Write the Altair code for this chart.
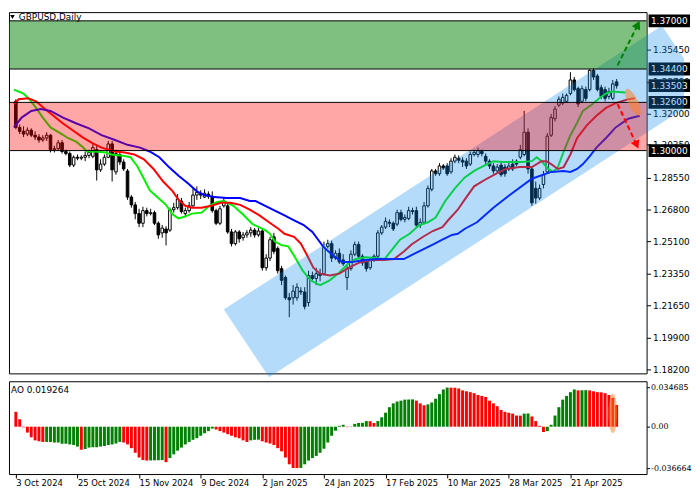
import json
import altair as alt
import pandas as pd

# ---------------- data (bar 0 = 3 Oct 2024) ----------------
OPEN = [
    1.3266, 1.3125, 1.3104, 1.3089, 1.3110, 1.3083, 1.3073, 1.3057, 1.3068, 1.3083,
    1.3005, 1.3010, 1.3042, 1.2995, 1.2984, 1.2922, 1.2964, 1.2959, 1.2964, 1.2974,
    1.2969, 1.3005, 1.2896, 1.2927, 1.2964, 1.3036, 1.2885, 1.2979, 1.2938, 1.2890,
    1.2749, 1.2707, 1.2660, 1.2608, 1.2676, 1.2660, 1.2665, 1.2608, 1.2556, 1.2577,
    1.2571, 1.2681, 1.2692, 1.2728, 1.2660, 1.2676, 1.2702, 1.2760, 1.2765, 1.2749,
    1.2765, 1.2754, 1.2676, 1.2608, 1.2702, 1.2702, 1.2561, 1.2498, 1.2561, 1.2530,
    1.2545, 1.2556, 1.2571, 1.2545, 1.2566, 1.2368, 1.2420, 1.2535, 1.2472, 1.2363,
    1.2315, 1.2206, 1.2206, 1.2206, 1.2242, 1.2237, 1.2180, 1.2326, 1.2310, 1.2336,
    1.2336, 1.2483, 1.2498, 1.2420, 1.2446, 1.2410, 1.2315, 1.2363, 1.2441, 1.2493,
    1.2430, 1.2399, 1.2368, 1.2415, 1.2430, 1.2556, 1.2587, 1.2613, 1.2608, 1.2603,
    1.2665, 1.2629, 1.2634, 1.2676, 1.2676, 1.2598, 1.2613, 1.2702, 1.2791, 1.2890,
    1.2875, 1.2917, 1.2917, 1.2885, 1.2943, 1.2959, 1.2948, 1.2943, 1.2927, 1.2979,
    1.2979, 1.2995, 1.2969, 1.2943, 1.2917, 1.2890, 1.2922, 1.2911, 1.2901, 1.2927,
    1.2943, 1.2964, 1.2979, 1.3099, 1.2901, 1.2796, 1.2744, 1.2817, 1.2885, 1.3083,
    1.3172, 1.3245, 1.3256, 1.3266, 1.3308, 1.3381, 1.3334, 1.3266, 1.3329, 1.3329,
    1.3433, 1.3402, 1.3339, 1.3329, 1.3292, 1.3282, 1.3371,
]
HIGH = [
    1.3277, 1.3141, 1.3131, 1.3125, 1.3120, 1.3104, 1.3089, 1.3083, 1.3099, 1.3089,
    1.3026, 1.3057, 1.3057, 1.3005, 1.2995, 1.2974, 1.2979, 1.2974, 1.2995, 1.3005,
    1.3036, 1.3026, 1.2953, 1.2979, 1.3052, 1.3052, 1.3005, 1.2995, 1.2953, 1.2901,
    1.2760, 1.2723, 1.2686, 1.2697, 1.2692, 1.2686, 1.2676, 1.2618, 1.2598, 1.2592,
    1.2692, 1.2718, 1.2765, 1.2744, 1.2692, 1.2723, 1.2796, 1.2807, 1.2786, 1.2791,
    1.2780, 1.2780, 1.2686, 1.2702, 1.2744, 1.2718, 1.2577, 1.2571, 1.2571, 1.2561,
    1.2571, 1.2587, 1.2582, 1.2582, 1.2577, 1.2441, 1.2535, 1.2556, 1.2483, 1.2378,
    1.2326, 1.2232, 1.2274, 1.2284, 1.2263, 1.2263, 1.2352, 1.2347, 1.2368, 1.2363,
    1.2509, 1.2519, 1.2514, 1.2462, 1.2472, 1.2441, 1.2378, 1.2462, 1.2509, 1.2509,
    1.2441, 1.2410, 1.2420, 1.2441, 1.2571, 1.2598, 1.2639, 1.2629, 1.2618, 1.2681,
    1.2681, 1.2655, 1.2697, 1.2692, 1.2697, 1.2634, 1.2723, 1.2812, 1.2901, 1.2901,
    1.2932, 1.2927, 1.2932, 1.2959, 1.2979, 1.2974, 1.2964, 1.2959, 1.2995, 1.3005,
    1.3016, 1.3005, 1.2984, 1.2953, 1.2932, 1.2927, 1.2938, 1.2927, 1.2938, 1.2953,
    1.2953, 1.3031, 1.3214, 1.3120, 1.2911, 1.2833, 1.2817, 1.2890, 1.3094, 1.3198,
    1.3240, 1.3292, 1.3308, 1.3308, 1.3423, 1.3397, 1.3345, 1.3350, 1.3345, 1.3439,
    1.3444, 1.3413, 1.3355, 1.3345, 1.3339, 1.3381, 1.3386,
]
LOW = [
    1.3115, 1.3089, 1.3073, 1.3078, 1.3073, 1.3057, 1.3042, 1.3047, 1.3052, 1.2990,
    1.2990, 1.3000, 1.2984, 1.2974, 1.2911, 1.2911, 1.2948, 1.2948, 1.2943, 1.2959,
    1.2959, 1.2838, 1.2885, 1.2917, 1.2959, 1.2833, 1.2870, 1.2922, 1.2890, 1.2734,
    1.2692, 1.2629, 1.2587, 1.2587, 1.2645, 1.2650, 1.2598, 1.2524, 1.2530, 1.2488,
    1.2561, 1.2665, 1.2681, 1.2660, 1.2639, 1.2665, 1.2697, 1.2734, 1.2739, 1.2744,
    1.2739, 1.2665, 1.2598, 1.2598, 1.2692, 1.2551, 1.2483, 1.2488, 1.2503, 1.2514,
    1.2530, 1.2535, 1.2530, 1.2535, 1.2352, 1.2352, 1.2404, 1.2441, 1.2336, 1.2274,
    1.2195, 1.2101, 1.2169, 1.2190, 1.2221, 1.2143, 1.2159, 1.2300, 1.2274, 1.2295,
    1.2326, 1.2472, 1.2399, 1.2410, 1.2389, 1.2378, 1.2248, 1.2352, 1.2430, 1.2420,
    1.2378, 1.2347, 1.2357, 1.2399, 1.2420, 1.2545, 1.2577, 1.2587, 1.2566, 1.2592,
    1.2618, 1.2613, 1.2624, 1.2655, 1.2587, 1.2582, 1.2603, 1.2692, 1.2780, 1.2864,
    1.2864, 1.2896, 1.2864, 1.2875, 1.2932, 1.2932, 1.2911, 1.2901, 1.2917, 1.2969,
    1.2964, 1.2969, 1.2927, 1.2901, 1.2875, 1.2880, 1.2859, 1.2859, 1.2890, 1.2890,
    1.2917, 1.2953, 1.2969, 1.2875, 1.2702, 1.2713, 1.2734, 1.2796, 1.2875, 1.3073,
    1.3157, 1.3235, 1.3245, 1.3256, 1.3298, 1.3319, 1.3235, 1.3256, 1.3266, 1.3319,
    1.3381, 1.3319, 1.3277, 1.3266, 1.3277, 1.3272, 1.3334,
]
CLOSE = [
    1.3125, 1.3104, 1.3089, 1.3110, 1.3083, 1.3073, 1.3057, 1.3068, 1.3083, 1.3005,
    1.3010, 1.3042, 1.2995, 1.2984, 1.2922, 1.2964, 1.2959, 1.2964, 1.2974, 1.2990,
    1.3016, 1.2896, 1.2927, 1.2964, 1.3036, 1.2896, 1.2984, 1.2938, 1.2901, 1.2749,
    1.2707, 1.2660, 1.2608, 1.2676, 1.2660, 1.2665, 1.2608, 1.2545, 1.2582, 1.2556,
    1.2681, 1.2692, 1.2739, 1.2671, 1.2676, 1.2702, 1.2760, 1.2775, 1.2760, 1.2770,
    1.2754, 1.2676, 1.2608, 1.2686, 1.2728, 1.2561, 1.2498, 1.2561, 1.2524, 1.2545,
    1.2556, 1.2571, 1.2545, 1.2566, 1.2368, 1.2420, 1.2519, 1.2456, 1.2352, 1.2300,
    1.2206, 1.2195, 1.2242, 1.2263, 1.2237, 1.2159, 1.2326, 1.2310, 1.2336, 1.2326,
    1.2477, 1.2498, 1.2420, 1.2446, 1.2399, 1.2389, 1.2363, 1.2441, 1.2493, 1.2430,
    1.2394, 1.2363, 1.2410, 1.2430, 1.2556, 1.2587, 1.2618, 1.2608, 1.2577, 1.2665,
    1.2629, 1.2639, 1.2676, 1.2671, 1.2598, 1.2613, 1.2702, 1.2796, 1.2890, 1.2875,
    1.2917, 1.2906, 1.2875, 1.2943, 1.2964, 1.2948, 1.2938, 1.2917, 1.2979, 1.2990,
    1.3000, 1.2984, 1.2943, 1.2917, 1.2890, 1.2911, 1.2870, 1.2875, 1.2917, 1.2901,
    1.2927, 1.3005, 1.3099, 1.2901, 1.2718, 1.2744, 1.2796, 1.2870, 1.3078, 1.3178,
    1.3224, 1.3277, 1.3287, 1.3298, 1.3381, 1.3329, 1.3251, 1.3334, 1.3282, 1.3433,
    1.3397, 1.3329, 1.3292, 1.3282, 1.3319, 1.3360, 1.3350,
]

# Alligator lines (bar position, price), drawn shifted forward as in the reference
LIPS_BAR = [-0.5, 2, 3.5, 5.25, 7, 9, 11.5, 13.5, 15.75, 17.25, 18.5, 20.75, 23.25, 24.75,
            27.25, 29.75, 31.5, 33.25, 34.75, 37, 39, 40.75, 42.25, 44, 45.75, 48.25, 50.25,
            52.25, 54, 56.5, 59, 61.5, 64.75, 66, 67.25, 69, 70.75, 72.75, 74.5, 76.5, 79,
            81.5, 84, 86.5, 88.25, 90.75, 93.25, 95.75, 97.75, 99.75, 102.25, 104.75, 107,
            109, 111.5, 114, 116.5, 119, 121.5, 124, 126.5, 129, 131.5, 134, 135.25, 136.5,
            138.25, 139.5, 140.75, 142.25, 144, 145.75, 147.25, 149.75, 151.5, 153.25,
            154.75, 158.25]
LIPS_VAL = [1.3329, 1.3308, 1.3277, 1.3230, 1.3178, 1.3125, 1.3094, 1.3068, 1.3047, 1.3021,
            1.2995, 1.2995, 1.2990, 1.2979, 1.2974, 1.2964, 1.2917, 1.2848, 1.2786, 1.2744,
            1.2707, 1.2655, 1.2634, 1.2645, 1.2660, 1.2665, 1.2702, 1.2723, 1.2728, 1.2702,
            1.2655, 1.2603, 1.2571, 1.2551, 1.2509, 1.2490, 1.2483, 1.2415, 1.2352, 1.2300,
            1.2274, 1.2300, 1.2342, 1.2394, 1.2415, 1.2425, 1.2420, 1.2415, 1.2467, 1.2519,
            1.2551, 1.2598, 1.2613, 1.2639, 1.2728, 1.2796, 1.2854, 1.2890, 1.2917, 1.2943,
            1.2938, 1.2938, 1.2938, 1.2943, 1.2964, 1.2943, 1.2901, 1.2885, 1.2911, 1.2995,
            1.3083, 1.3151, 1.3214, 1.3251, 1.3282, 1.3308, 1.3319, 1.3313]
TEETH_BAR = [-0.5, 0.75, 3.25, 5.25, 7.25, 9.75, 12.25, 14.75, 17.25, 19.75, 22.25, 25.75,
             28.25, 30.75, 33.25, 35.75, 38.25, 40.75, 42.25, 44, 45.75, 48.25, 50.75, 53.25,
             55.75, 58.25, 60.75, 63.25, 65.75, 68.25, 69.75, 72.25, 74, 75.75, 77.25, 79,
             81.5, 84, 86.5, 89, 92.25, 95.75, 98.25, 100.75, 102.75, 105.75, 108.25, 110.75,
             112.25, 114.75, 116.5, 119, 122.25, 124.75, 127.25, 130.75, 134, 136.5, 137.75,
             139, 140.75, 142.25, 144, 145.75, 148.25, 150.75, 153.25, 155.75, 159, 160.75]
TEETH_VAL = [1.3251, 1.3277, 1.3282, 1.3266, 1.3230, 1.3188, 1.3146, 1.3110, 1.3073, 1.3042,
             1.3016, 1.2995, 1.2990, 1.2979, 1.2953, 1.2901, 1.2833, 1.2780, 1.2734, 1.2702,
             1.2692, 1.2692, 1.2702, 1.2718, 1.2718, 1.2707, 1.2681, 1.2650, 1.2613, 1.2577,
             1.2551, 1.2535, 1.2498, 1.2430, 1.2368, 1.2336, 1.2326, 1.2336, 1.2368, 1.2394,
             1.2410, 1.2410, 1.2415, 1.2456, 1.2493, 1.2535, 1.2566, 1.2587, 1.2624, 1.2681,
             1.2734, 1.2807, 1.2848, 1.2875, 1.2901, 1.2911, 1.2911, 1.2943, 1.2943, 1.2927,
             1.2901, 1.2911, 1.2979, 1.3068, 1.3136, 1.3188, 1.3230, 1.3256, 1.3277, 1.3282]
JAW_BAR = [-0.5, 1.5, 4, 6.5, 9, 12.25, 15.75, 19, 22.25, 25.75, 29, 32.25, 34.75, 37.25,
           39.75, 42.25, 44.75, 47, 49, 51.5, 54.75, 58.25, 60.75, 62.25, 64.75, 67.25, 69.75,
           72.25, 74.75, 77, 78.5, 79.75, 82.25, 84.75, 87.25, 90.75, 94, 97.25, 100.75,
           103.25, 105.75, 108.25, 110.75, 113.25, 114.75, 116.5, 119.75, 124, 128.25, 134,
           139, 142.25, 144, 145.75, 147.25, 149, 150.75, 153.25, 155.75, 159, 162]
JAW_VAL = [1.3125, 1.3178, 1.3214, 1.3224, 1.3214, 1.3178, 1.3146, 1.3120, 1.3083, 1.3057,
           1.3031, 1.3016, 1.2995, 1.2964, 1.2911, 1.2864, 1.2822, 1.2780, 1.2760, 1.2749,
           1.2744, 1.2744, 1.2728, 1.2728, 1.2702, 1.2676, 1.2650, 1.2624, 1.2598, 1.2561,
           1.2519, 1.2483, 1.2436, 1.2399, 1.2399, 1.2410, 1.2415, 1.2415, 1.2415, 1.2441,
           1.2467, 1.2493, 1.2519, 1.2545, 1.2551, 1.2577, 1.2613, 1.2692, 1.2760, 1.2848,
           1.2885, 1.2890, 1.2885, 1.2901, 1.2927, 1.2969, 1.3016, 1.3068, 1.3125, 1.3172,
           1.3188]

# Awesome Oscillator
AO_VALUE = [
    0.0132, 0.0066, -0.0005, -0.0052, -0.0094, -0.0121, -0.0129, -0.0135, -0.0135, -0.0135,
    -0.0140, -0.0140, -0.0151, -0.0151, -0.0157, -0.0162, -0.0176, -0.0204, -0.0198, -0.0185,
    -0.0182, -0.0182, -0.0176, -0.0171, -0.0162, -0.0157, -0.0149, -0.0135, -0.0140, -0.0157,
    -0.0190, -0.0231, -0.0273, -0.0295, -0.0300, -0.0299, -0.0298, -0.0297, -0.0296, -0.0314,
    -0.0278, -0.0245, -0.0212, -0.0185, -0.0157, -0.0135, -0.0116, -0.0102, -0.0080, -0.0058,
    -0.0039, -0.0017, -0.0025, -0.0039, -0.0052, -0.0066, -0.0080, -0.0094, -0.0102, -0.0121,
    -0.0135, -0.0121, -0.0116, -0.0115, -0.0129, -0.0140, -0.0149, -0.0162, -0.0190, -0.0218,
    -0.0273, -0.0333, -0.0366, -0.036664, -0.0365, -0.0333, -0.0300, -0.0278, -0.0259, -0.0231,
    -0.0195, -0.0140, -0.0080, -0.0035, 0.0008, 0.0017, -0.0004, -0.0003, 0.0025, 0.0033,
    0.0034, 0.0050, 0.0049, 0.0033, 0.0050, 0.0083, 0.0124, 0.0173, 0.0207, 0.0223,
    0.0231, 0.0240, 0.0241, 0.0242, 0.0231, 0.0207, 0.0190, 0.0198, 0.0215, 0.0248,
    0.0289, 0.0330, 0.034685, 0.0346, 0.0345, 0.0339, 0.0322, 0.0314, 0.0306, 0.0297,
    0.0281, 0.0273, 0.0264, 0.0231, 0.0207, 0.0182, 0.0149, 0.0132, 0.0124, 0.0116,
    0.0099, 0.0098, 0.0116, 0.0117, 0.0091, 0.0050, 0.0008, -0.0047, -0.0039, 0.0017,
    0.0099, 0.0173, 0.0240, 0.0273, 0.0306, 0.0330, 0.0322, 0.0323, 0.0324, 0.0322,
    0.0314, 0.0306, 0.0305, 0.0297, 0.0281, 0.0256, 0.019264,
]
AO_COLOR_RUNS = [("r", 8), ("g", 9), ("r", 1), ("g", 10), ("r", 7), ("g", 4), ("r", 1),
                 ("g", 12), ("r", 9), ("g", 3), ("r", 10), ("g", 12), ("r", 1), ("g", 5),
                 ("r", 2), ("g", 10), ("r", 3), ("g", 6), ("r", 19), ("g", 2), ("r", 4),
                 ("g", 8), ("r", 1), ("g", 2), ("r", 8)]
AO_TEXT = "AO 0.019264"

# drawn objects
CHANNEL_BAR = [54.0, 65.75, 167.75, 173.5]
CHANNEL_UPPER = [1.2143, 1.2301, 1.3674, 1.3495]
CHANNEL_LOWER = [1.2143, 1.1777, 1.3150, 1.3227]
GREEN_ZONE = [1.344, 1.370]
RED_ZONE = [1.300, 1.326]
LEVEL_PRICE = [1.370, 1.344, 1.33503, 1.326, 1.300]
LEVEL_TEXT = ["1.37000", "1.34400", "1.33503", "1.32600", "1.30000"]
ARROW_UP_BAR = [156.25, 161.5]
ARROW_UP_PRICE = [1.3460, 1.3679]
ARROW_DN_BAR = [156.25, 161.2]
ARROW_DN_PRICE = [1.3251, 1.3031]
ELLIPSE_MAIN = [160.25, 1.3261]
ELLIPSE_AO = [155, 0.0118]

PRICE_TICKS = [1.3545, 1.337, 1.32, 1.3035, 1.2855, 1.268, 1.251, 1.2335,
               1.2165, 1.199, 1.182]
AO_TICKS = [0.034685, 0.0, -0.036664]
DATE_BARS = [0, 16, 32, 48, 64, 80, 96, 112, 128, 144]
DATE_LABELS = ["3 Oct 2024", "25 Oct 2024", "15 Nov 2024", "9 Dec 2024", "2 Jan 2025",
               "24 Jan 2025", "17 Feb 2025", "10 Mar 2025", "28 Mar 2025", "21 Apr 2025"]
TITLE = "GBPUSD,Daily"

# ---------------- layout ----------------
W = 646
H_MAIN = 366
H_AO = 94
FONT = "DejaVu Sans"
ELL_PATH = "M -1 0 A 1 0.33 0 1 1 1 0 A 1 0.33 0 1 1 -1 0 Z"
ELL_PATH_AO = "M -1 0 A 1 0.22 0 1 1 1 0 A 1 0.22 0 1 1 -1 0 Z"

xs = alt.Scale(domain=[-0.5, 162.5], nice=False, zero=False)
ys = alt.Scale(domain=[1.1798, 1.3747], nice=False, zero=False)
aos = alt.Scale(domain=[-0.04195, 0.04027], nice=False, zero=False)

price_axis = alt.Axis(orient="right", values=PRICE_TICKS, format=".5f", title=None,
                      labelFont=FONT, labelFontSize=9, labelColor="black",
                      tickColor="black", tickSize=4, labelPadding=2, domain=False,
                      grid=False, labelOverlap=False, zindex=0)
date_expr = json.dumps(DATE_LABELS) + "[round(datum.value / 16)]"
date_axis = alt.Axis(orient="bottom", values=DATE_BARS, labelExpr=date_expr, title=None,
                     labelAlign="left", labelFont=FONT, labelFontSize=8.5,
                     labelColor="black", tickColor="black", tickSize=4, labelPadding=1,
                     domain=False, grid=False, labelOverlap=False, labelFlush=False,
                     zindex=0)
ao_axis = alt.Axis(orient="right", values=AO_TICKS, title=None,
                   labelExpr="datum.value == 0 ? '0.00' : toString(datum.value)",
                   labelFont=FONT, labelFontSize=8, labelColor="black", tickColor="black",
                   tickSize=3, labelPadding=1, domain=False, grid=False,
                   labelOverlap=False, zindex=0)

X = alt.X("i:Q", scale=xs, axis=None)


def Y(field):
    return alt.Y(field, scale=ys, axis=price_axis)


one = pd.DataFrame({"a": [0]})

cdf = pd.DataFrame({"i": list(range(len(CLOSE))), "o": OPEN, "h": HIGH, "l": LOW, "c": CLOSE})
cdf["fill"] = ["white" if c >= o else "black" for o, c in zip(OPEN, CLOSE)]

wicks = alt.Chart(cdf).mark_rule(color="black", strokeWidth=1).encode(
    x=X, y=Y("l:Q"), y2="h:Q")
bodies = alt.Chart(cdf).mark_bar(size=2.6, stroke="black", strokeWidth=1).encode(
    x=X, y=Y("o:Q"), y2="c:Q", fill=alt.Fill("fill:N", scale=None))


def ma_line(bars, vals, color):
    df = pd.DataFrame({"i": bars, "v": vals})
    return alt.Chart(df).mark_line(color=color, strokeWidth=2).encode(x=X, y=Y("v:Q"))


lips = ma_line(LIPS_BAR, LIPS_VAL, "#00EE00")
teeth = ma_line(TEETH_BAR, TEETH_VAL, "#FF0000")
jaw = ma_line(JAW_BAR, JAW_VAL, "#0000FF")

lvl = pd.DataFrame({"p": LEVEL_PRICE, "t": LEVEL_TEXT})
boxes = alt.Chart(lvl).mark_rect(color="black", yOffset=-6.5, y2Offset=6.5).encode(
    y=Y("p:Q"), y2="p:Q", x=alt.value(W + 2), x2=alt.value(W + 44))
box_text = alt.Chart(lvl).mark_text(color="white", font=FONT, fontSize=9,
                                    align="center", baseline="middle").encode(
    y=Y("p:Q"), x=alt.value(W + 23), text="t:N")

chdf = pd.DataFrame({"i": CHANNEL_BAR, "u": CHANNEL_UPPER, "lo": CHANNEL_LOWER})
channel = alt.Chart(chdf).mark_area(color="#0D8BEF", opacity=0.31, clip=False).encode(
    x=X, y=Y("u:Q"), y2="lo:Q")

gz = pd.DataFrame({"lo": [GREEN_ZONE[0]], "hi": [GREEN_ZONE[1]]})
rz = pd.DataFrame({"lo": [RED_ZONE[0]], "hi": [RED_ZONE[1]]})
green_zone = alt.Chart(gz).mark_rect(color="#008000", opacity=0.5).encode(
    y=Y("lo:Q"), y2="hi:Q", x=alt.value(0), x2=alt.value(W))
red_zone = alt.Chart(rz).mark_rect(color="#FF0000", opacity=0.35).encode(
    y=Y("lo:Q"), y2="hi:Q", x=alt.value(0), x2=alt.value(W))
edges = pd.DataFrame({"p": GREEN_ZONE + RED_ZONE})
zone_edges = alt.Chart(edges).mark_rule(color="black", strokeWidth=1).encode(
    y=Y("p:Q"), x=alt.value(0), x2=alt.value(W))

up = pd.DataFrame({"i": ARROW_UP_BAR, "v": ARROW_UP_PRICE})
dn = pd.DataFrame({"i": ARROW_DN_BAR, "v": ARROW_DN_PRICE})
up_line = alt.Chart(up).mark_line(color="#008000", strokeWidth=2, strokeDash=[5, 3]).encode(
    x=X, y=Y("v:Q"))
dn_line = alt.Chart(dn).mark_line(color="#FF0000", strokeWidth=2, strokeDash=[5, 3]).encode(
    x=X, y=Y("v:Q"))
up_head = alt.Chart(up.tail(1)).mark_point(shape="triangle-up", filled=True, size=90,
                                           angle=27, color="#008000", opacity=1).encode(
    x=X, y=Y("v:Q"))
dn_head = alt.Chart(dn.tail(1)).mark_point(shape="triangle-up", filled=True, size=90,
                                           angle=156, color="#FF0000", opacity=1).encode(
    x=X, y=Y("v:Q"))

ell_df = pd.DataFrame({"i": [ELLIPSE_MAIN[0]], "v": [ELLIPSE_MAIN[1]]})
ellipse = alt.Chart(ell_df).mark_point(shape=ELL_PATH, filled=True, size=900, angle=63,
                                       color="#FF7F27", opacity=0.55, strokeWidth=0).encode(
    x=X, y=Y("v:Q"))

title = alt.Chart(pd.DataFrame({"t": [TITLE]})).mark_text(
    align="left", baseline="middle", font=FONT, fontSize=9, color="black").encode(
    x=alt.value(10), y=alt.value(5), text="t:N")
title_tri = alt.Chart(one).mark_point(shape="triangle-down", filled=True, size=22,
                                      color="black", opacity=1).encode(
    x=alt.value(3.5), y=alt.value(5))

main = alt.layer(wicks, bodies, lips, teeth, jaw, boxes, box_text, channel, green_zone,
                 red_zone, zone_edges, up_line, up_head, dn_line, dn_head, ellipse,
                 title, title_tri).properties(width=W, height=H_MAIN)

# ---------------- AO panel ----------------
ao_col = []
for flag, n in AO_COLOR_RUNS:
    ao_col += ["#FF0000" if flag == "r" else "#008000"] * n
ao_df = pd.DataFrame({"i": list(range(len(AO_VALUE))), "v": AO_VALUE,
                      "col": ao_col[:len(AO_VALUE)]})

AX = alt.X("i:Q", scale=xs, axis=date_axis)
AY = alt.Y("v:Q", scale=aos, axis=ao_axis)

ao_bars = alt.Chart(ao_df).mark_bar(size=3).encode(
    x=AX, y=AY, y2=alt.datum(0), color=alt.Color("col:N", scale=None))
ao_text = alt.Chart(pd.DataFrame({"t": [AO_TEXT]})).mark_text(
    align="left", baseline="middle", font=FONT, fontSize=9, color="black").encode(
    x=alt.value(2), y=alt.value(9), text="t:N")
ao_ell_df = pd.DataFrame({"i": [ELLIPSE_AO[0]], "v": [ELLIPSE_AO[1]]})
ao_ell = alt.Chart(ao_ell_df).mark_point(shape=ELL_PATH_AO, filled=True, size=1600,
                                         angle=90, color="#FF7F27", opacity=0.5,
                                         strokeWidth=0).encode(x=AX, y=AY)

ao = alt.layer(ao_bars, ao_ell, ao_text).properties(width=W, height=H_AO)

chart = alt.vconcat(main, ao, spacing=2).properties(
    padding=0, background="white"
).configure_view(stroke="black", strokeWidth=1)

chart.save("out.html", embed_options={"renderer": "svg", "actions": False})
